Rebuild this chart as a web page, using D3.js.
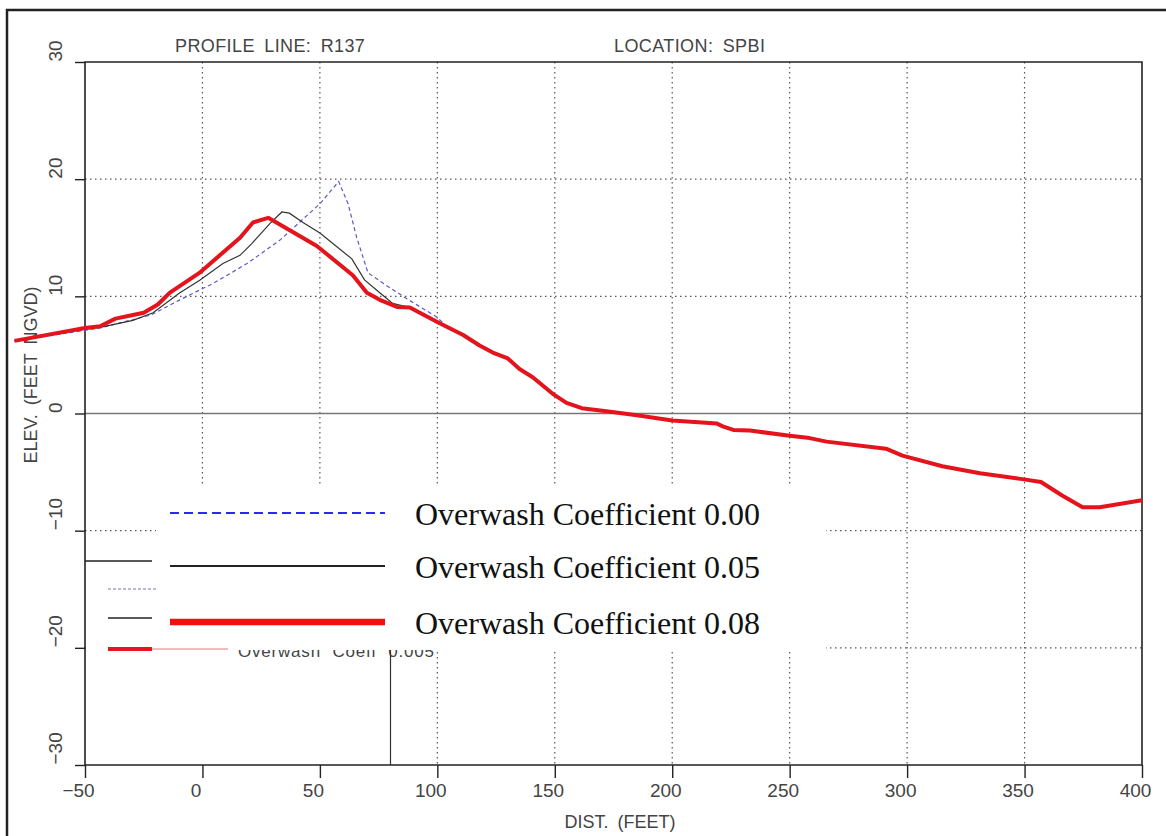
<!DOCTYPE html>
<html>
<head>
<meta charset="utf-8">
<script src="https://cdn.jsdelivr.net/npm/d3@7"></script>
<style>
  html, body { margin: 0; padding: 0; background: #fff; }
  svg { display: block; }
  .plotter { font-family: "Liberation Sans", Arial, sans-serif; fill: #444; }
</style>
</head>
<body>
<svg id="chart" width="1166" height="836"></svg>
<script>
// Beach profile R137 (SPBI): elevation vs. distance for three overwash coefficients

const xTicks = [-50, 0, 50, 100, 150, 200, 250, 300, 350, 400];
const yTicks = [-30, -20, -10, 0, 10, 20, 30];
const xGrid = [0, 50, 100, 150, 200, 250, 300, 350];
const yGrid = [-20, -10, 10, 20];

const legendLabels = ["Overwash Coefficient 0.00", "Overwash Coefficient 0.05", "Overwash Coefficient 0.08"];

// Overwash coefficient 0.00 (distance ft, elevation ft NGVD)
const distCoef000 = [-80, -50, -43.6, -22, -9.6, 4.5, 19, 33, 50, 58, 62, 65.7, 70.5, 78.5, 87, 100, 104];
const elevCoef000 = [6.2, 7.1, 7.3, 8.4, 9.7, 11.1, 12.8, 14.8, 17.9, 19.8, 17.9, 15.0, 12.0, 10.9, 9.8, 8.2, 7.4];

// Overwash coefficient 0.05
const distCoef005 = [-80, -50, -43.6, -29.6, -21, -9.6, -1, 8.7, 16, 21, 28.7, 33.8, 37, 42.8, 50, 63.6, 69, 75.5, 81, 88.3];
const elevCoef005 = [6.2, 7.2, 7.35, 7.95, 8.6, 10.3, 11.4, 12.8, 13.5, 14.5, 16.2, 17.2, 17.1, 16.3, 15.4, 13.2, 11.4, 10.3, 9.4, 9.05];

// Overwash coefficient 0.08
const distCoef008 = [-80, -50, -43.6, -37, -29.6, -25, -19, -14, -1.3, 16, 21.5, 28, 48.7, 64, 70, 75.5, 82.8, 88.3,
  101, 111, 118, 123.6, 130, 135, 140.6, 149, 155, 161.5, 172, 185, 200, 219, 221.5, 226, 233, 250, 258.5, 265.7,
  291, 298, 315, 331, 349, 357, 366, 374.7, 382, 400];
const elevCoef008 = [6.2, 7.3, 7.45, 8.1, 8.4, 8.6, 9.3, 10.3, 12.0, 15.0, 16.3, 16.7, 14.3, 11.8, 10.3, 9.7, 9.1, 9.05,
  7.7, 6.7, 5.8, 5.2, 4.7, 3.8, 3.1, 1.7, 0.9, 0.45, 0.2, -0.15, -0.6, -0.85, -1.1, -1.4, -1.45, -1.9, -2.1, -2.4,
  -3.0, -3.6, -4.5, -5.1, -5.6, -5.85, -7.0, -8.0, -8.0, -7.4];

const svg = d3.select("#chart");
const x = d3.scaleLinear().domain([-50, 400]).range([85, 1142]);
const y = d3.scaleLinear().domain([-30, 30]).range([765, 62]);

// outer frame (top and left edges)
svg.append("path").attr("d", "M7,836V10H1166").attr("fill", "none")
  .attr("stroke", "#222").attr("stroke-width", 2.5);

// grid
const grid = svg.append("g");
grid.selectAll(".vg").data(xGrid).join("line")
  .attr("x1", d => x(d)).attr("x2", d => x(d)).attr("y1", y(30)).attr("y2", y(-30))
  .attr("stroke", "#555").attr("stroke-width", 1.2).attr("stroke-dasharray", "1.5,3.5");
grid.selectAll(".hg").data(yGrid).join("line")
  .attr("x1", x(-50)).attr("x2", x(400)).attr("y1", d => y(d)).attr("y2", d => y(d))
  .attr("stroke", "#555").attr("stroke-width", 1.2).attr("stroke-dasharray", "1.5,3.5");
grid.append("line").attr("x1", x(-50)).attr("x2", x(400)).attr("y1", y(0)).attr("y2", y(0))
  .attr("stroke", "#777").attr("stroke-width", 1.3);

// frame of the plot area
svg.append("path")
  .attr("d", `M${x(-50)},${y(-30)}V${y(30)}H${x(400)}V${y(-30)}H${x(-50)}`)
  .attr("fill", "none").attr("stroke", "#222").attr("stroke-width", 1.6);

// axes
const xAxis = svg.append("g").attr("transform", `translate(0,${y(-30)})`)
  .call(d3.axisBottom(x).tickValues(xTicks).tickSize(13).tickPadding(6).tickFormat(d3.format("d")));
xAxis.select(".domain").remove();
xAxis.selectAll(".tick line").attr("stroke", "#222").attr("stroke-width", 1.4);
xAxis.selectAll(".tick text").attr("class", "plotter").attr("font-size", 19).attr("dx", -7)
  .text(d => String(d).replace("-", "\u2212"));

const yAxis = svg.append("g").attr("transform", `translate(${x(-50)},0)`)
  .call(d3.axisLeft(y).tickValues(yTicks).tickSize(10).tickFormat(d3.format("d")));
yAxis.select(".domain").remove();
yAxis.selectAll(".tick line").attr("stroke", "#222").attr("stroke-width", 1.4);
yAxis.selectAll(".tick text").attr("class", "plotter").attr("font-size", 19)
  .attr("x", 0).attr("dy", 0)
  .attr("transform", "translate(-23,-1) rotate(-90)")
  .attr("text-anchor", "start")
  .text(d => String(d).replace("-", "\u2212"));

// titles
svg.append("text").attr("class", "plotter").attr("x", 175).attr("y", 52).attr("font-size", 18)
  .attr("letter-spacing", 0.4).attr("word-spacing", 4).text("PROFILE LINE: R137");
svg.append("text").attr("class", "plotter").attr("x", 614).attr("y", 52).attr("font-size", 18)
  .attr("letter-spacing", 0.4).attr("word-spacing", 4).text("LOCATION: SPBI");
svg.append("text").attr("class", "plotter").attr("x", 620).attr("y", 828).attr("font-size", 18)
  .attr("text-anchor", "middle").attr("word-spacing", 4).text("DIST. (FEET)");
svg.append("text").attr("class", "plotter").attr("font-size", 18).attr("text-anchor", "middle")
  .attr("word-spacing", 4).attr("transform", "translate(37,375) rotate(-90)").text("ELEV. (FEET NGVD)");

// earlier key block underneath
svg.append("rect").attr("x", 86).attr("y", 540).attr("width", 344).attr("height", 224).attr("fill", "#fff");
svg.append("line").attr("x1", 85).attr("x2", 152).attr("y1", 561).attr("y2", 561).attr("stroke", "#222").attr("stroke-width", 1.5);
svg.append("line").attr("x1", 108).attr("x2", 157).attr("y1", 589).attr("y2", 589).attr("stroke", "#77a").attr("stroke-width", 1).attr("stroke-dasharray", "3,2");
svg.append("line").attr("x1", 108).attr("x2", 152).attr("y1", 618).attr("y2", 618).attr("stroke", "#222").attr("stroke-width", 1.5);
svg.append("text").attr("class", "plotter").attr("x", 238).attr("y", 657).attr("font-size", 17)
  .attr("letter-spacing", 0.8).attr("word-spacing", 6).text("Overwash Coeff 0.005");
svg.append("line").attr("x1", 390.5).attr("x2", 390.5).attr("y1", 650).attr("y2", 765).attr("stroke", "#333").attr("stroke-width", 1.2);

// legend
svg.append("rect").attr("x", 156).attr("y", 486).attr("width", 670).attr("height", 164).attr("fill", "#fff");
svg.append("line").attr("x1", 108).attr("x2", 152).attr("y1", 649).attr("y2", 649).attr("stroke", "#e8141c").attr("stroke-width", 4);
svg.append("line").attr("x1", 152).attr("x2", 228).attr("y1", 649).attr("y2", 649).attr("stroke", "#f4a0a8").attr("stroke-width", 1.5);

const legendStyles = [
  { color: "#2a2aee", width: 2, dash: "9,5", ly: 513 },
  { color: "#222", width: 2, dash: null, ly: 566 },
  { color: "#f01010", width: 6.5, dash: null, ly: 622 }
];
const legend = svg.append("g");
legendLabels.forEach((label, i) => {
  const s = legendStyles[i];
  legend.append("line").attr("x1", 170).attr("x2", 385).attr("y1", s.ly).attr("y2", s.ly)
    .attr("stroke", s.color).attr("stroke-width", s.width).attr("stroke-dasharray", s.dash);
  legend.append("text").attr("x", 415).attr("y", s.ly + 12)
    .attr("font-family", "'Liberation Serif', 'Times New Roman', serif").attr("font-size", 32)
    .attr("fill", "#111").text(label);
});

// profiles
const line = d3.line().x(d => x(d[0])).y(d => y(d[1]));
const zip = (a, b) => a.map((v, i) => [v, b[i]]);

svg.append("path").datum(zip(distCoef000, elevCoef000)).attr("d", line)
  .attr("fill", "none").attr("stroke", "#5a5ad0").attr("stroke-width", 1.2).attr("stroke-dasharray", "4,3");
svg.append("path").datum(zip(distCoef005, elevCoef005)).attr("d", line)
  .attr("fill", "none").attr("stroke", "#333").attr("stroke-width", 1.2);
svg.append("path").datum(zip(distCoef008, elevCoef008)).attr("d", line)
  .attr("fill", "none").attr("stroke", "#e4141c").attr("stroke-width", 4).attr("stroke-linejoin", "round");
</script>
</body>
</html>
